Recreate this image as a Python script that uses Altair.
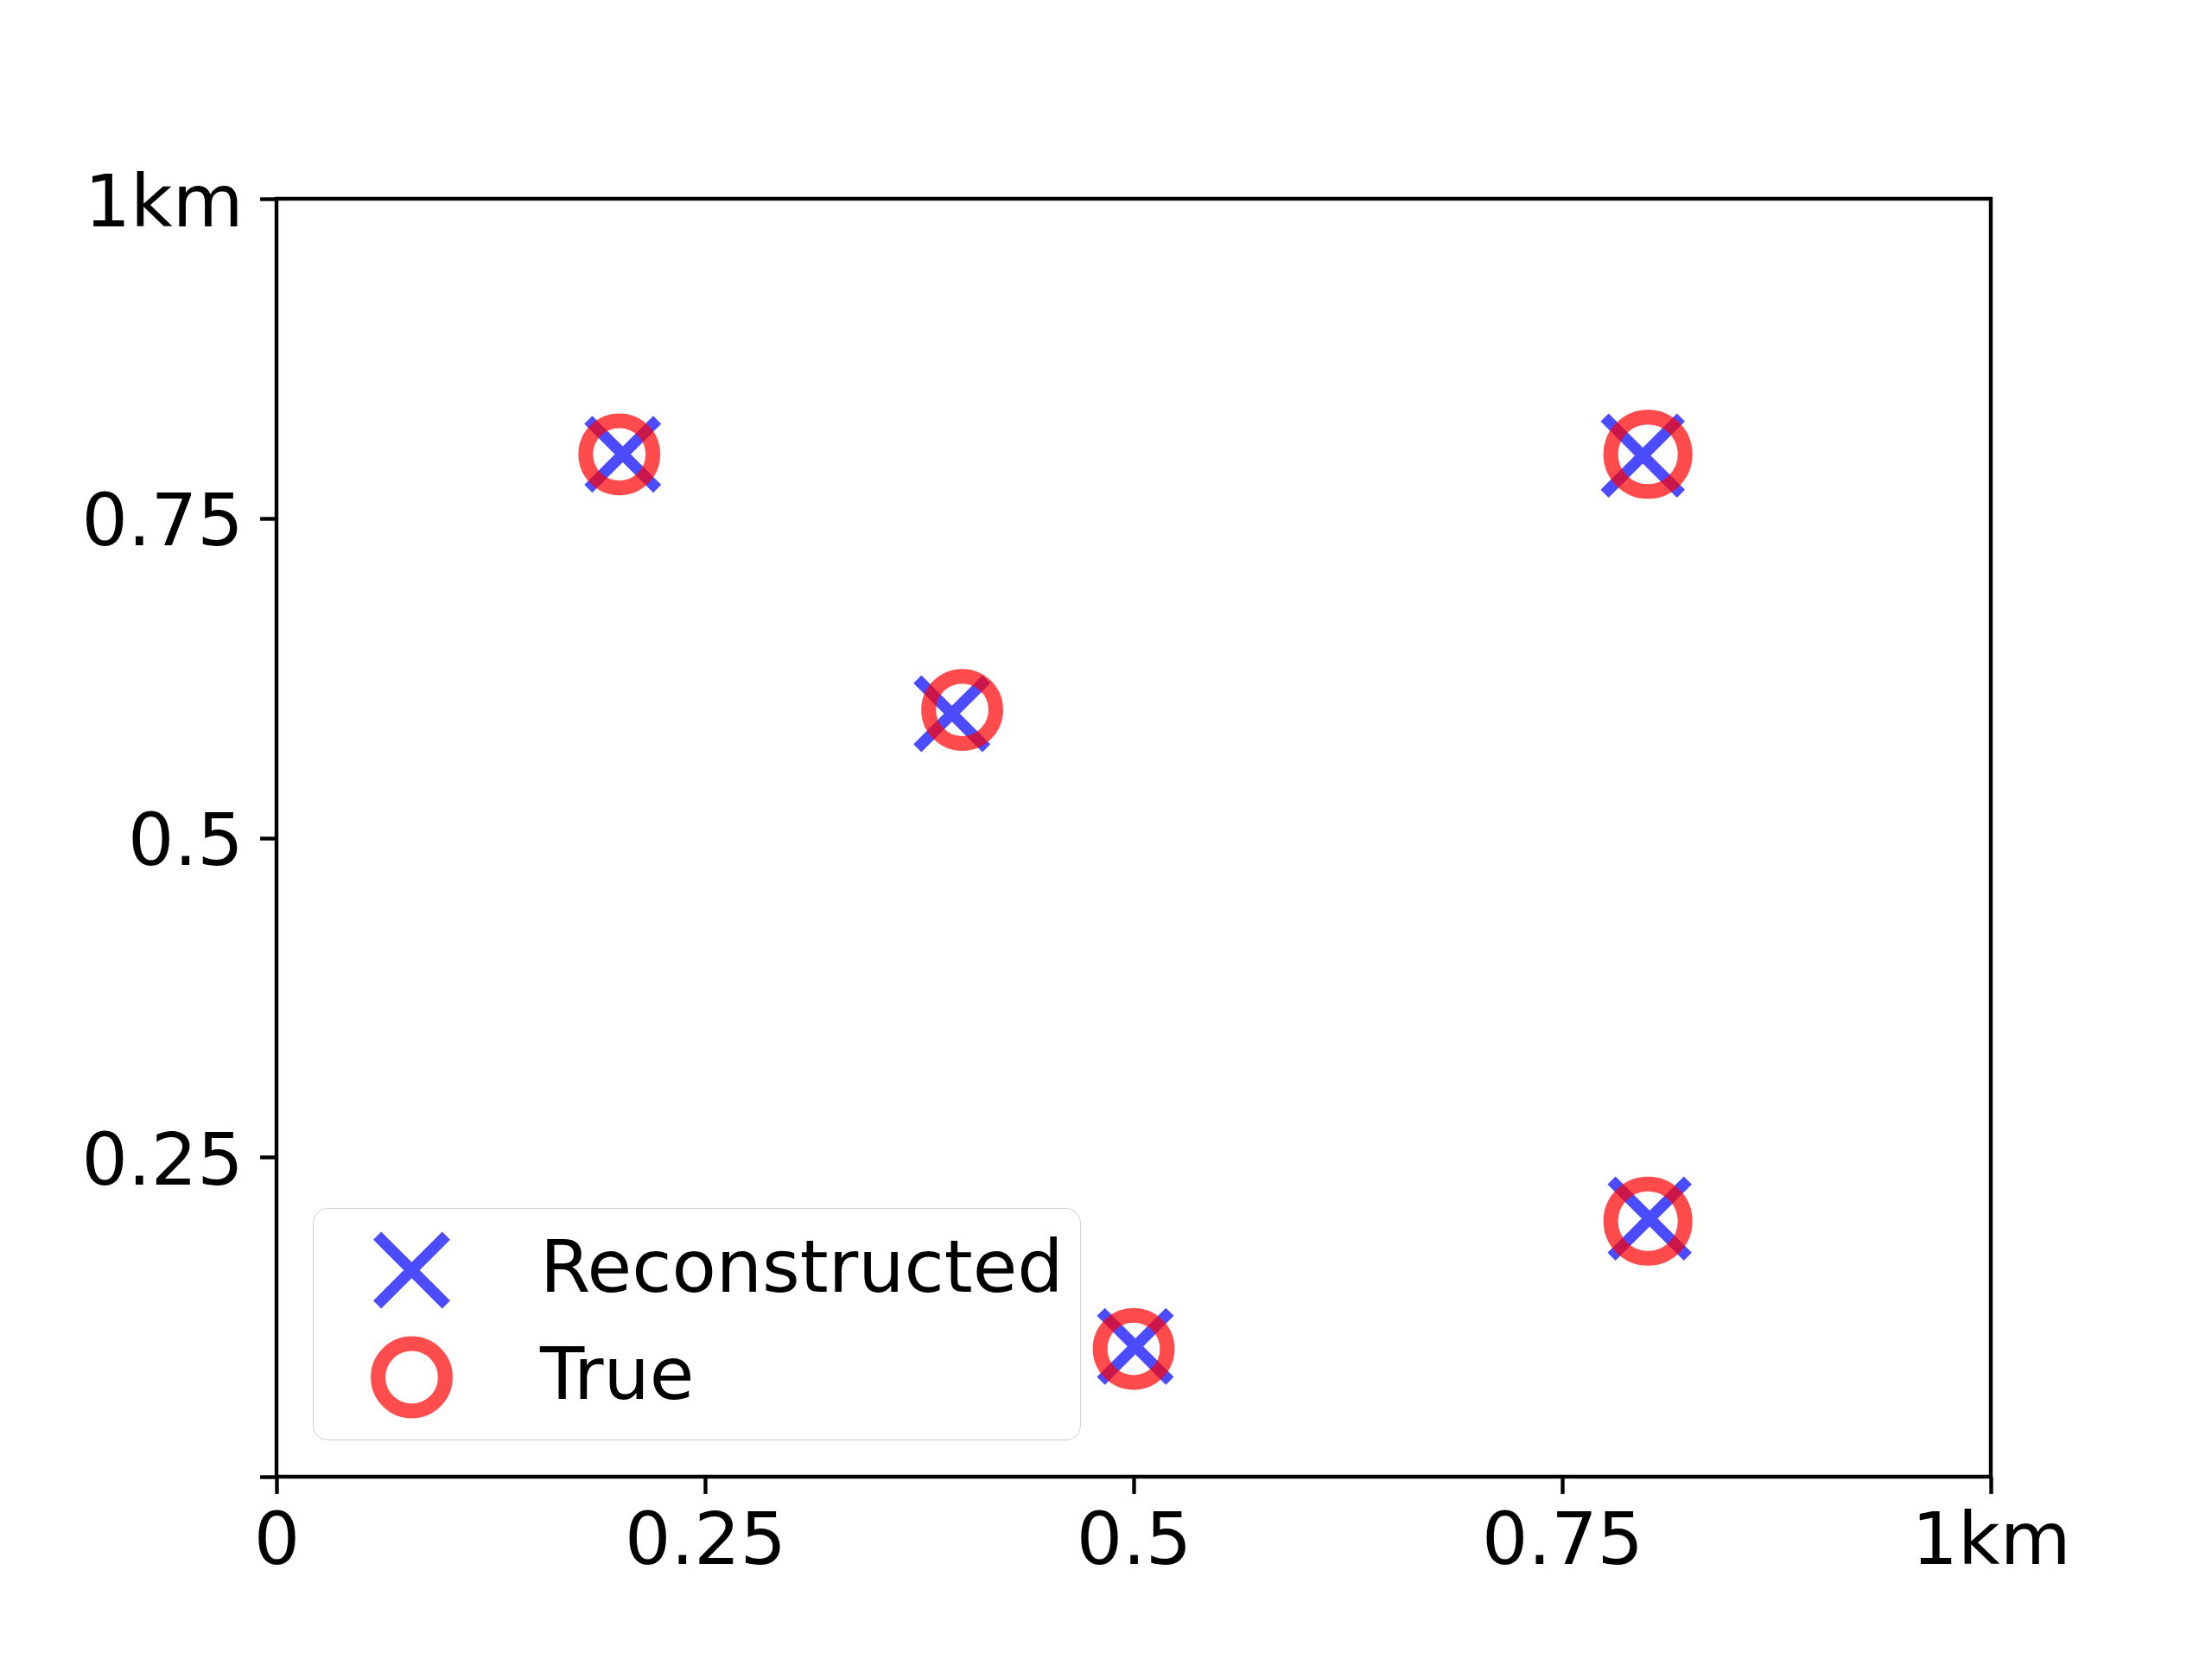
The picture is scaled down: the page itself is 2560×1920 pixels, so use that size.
import json
import altair as alt
import pandas as pd

# ---- data ----
series_names = ["Reconstructed", "True"]
true_x = [0.2, 0.4, 0.5, 0.8, 0.8]
true_y = [0.8, 0.6, 0.1, 0.8, 0.2]
rec_x = [0.202, 0.394, 0.501, 0.797, 0.801]
rec_y = [0.800, 0.597, 0.102, 0.799, 0.202]
marker_s = [200, 200, 200, 250, 250]
tick_values = [0, 0.25, 0.5, 0.75, 1]
x_tick_labels = ["0", "0.25", "0.5", "0.75", "1km"]
y_tick_labels = ["", "0.25", "0.5", "0.75", "1km"]

rows = []
for x, y, s in zip(rec_x, rec_y, marker_s):
    rows.append({"x": x, "y": y, "s": s, "series": series_names[0]})
for x, y, s in zip(true_x, true_y, marker_s):
    rows.append({"x": x, "y": y, "s": s, "series": series_names[1]})
df = pd.DataFrame(rows)

X_PATH = "M-1,-1L1,1M-1,1L1,-1"
O_PATH = "M0.975,0A0.975,0.975,0,1,1,-0.975,0A0.975,0.975,0,1,1,0.975,0Z"

FONT = "DejaVu Sans"
FS = 84


def label_expr(labels):
    return f"{json.dumps(labels)}[indexof({json.dumps(tick_values)}, datum.value)]"


common_axis = dict(
    values=tick_values,
    title=None,
    grid=False,
    domain=False,
    ticks=True,
    tickSize=19.4,
    tickWidth=4.4,
    tickColor="black",
    labelFont=FONT,
    labelFontSize=FS,
    labelColor="black",
    labelFlush=False,
    labelOverlap=False,
    labelBound=False,
    labelLimit=0,
)

chart = (
    alt.Chart(df)
    .mark_point(filled=False, opacity=0.7)
    .encode(
        x=alt.X(
            "x:Q",
            scale=alt.Scale(domain=[0, 1], nice=False, zero=False),
            axis=alt.Axis(labelExpr=label_expr(x_tick_labels), labelPadding=15, **common_axis),
        ),
        y=alt.Y(
            "y:Q",
            scale=alt.Scale(domain=[0, 1], nice=False, zero=False),
            axis=alt.Axis(labelExpr=label_expr(y_tick_labels), labelPadding=19.5, labelOffset=6, **common_axis),
        ),
        color=alt.Color(
            "series:N",
            scale=alt.Scale(domain=series_names, range=["#0000ff", "#ff0000"]),
            legend=alt.Legend(
                title=None,
                orient="none",
                legendX=42,
                legendY=1168,
                padding=19,
                symbolOffset=47,
                labelOffset=100,
                clipHeight=106,
                rowPadding=18,
                labelFont=FONT,
                labelFontSize=FS,
                labelColor="black",
                labelBaseline="middle",
                labelLimit=0,
                symbolSize=6368,
                symbolOpacity=0.7,
                fillColor="white",
                strokeColor="#cfcfcf",
                cornerRadius=17,
            ),
        ),
        shape=alt.Shape(
            "series:N",
            scale=alt.Scale(domain=series_names, range=[X_PATH, O_PATH]),
        ),
        strokeWidth=alt.StrokeWidth(
            "series:O",
            scale=alt.Scale(type="ordinal", domain=series_names, range=[13, 17]),
        ),
        size=alt.Size(
            "s:Q",
            scale=alt.Scale(domain=[200, 250], range=[6368, 7797], zero=False),
            legend=None,
        ),
    )
    .properties(
        width=1984,
        height=1479,
        autosize=alt.AutoSizeParams(type="none"),
        padding={"left": 312, "top": 222, "right": 248, "bottom": 203},
        background="white",
    )
    .configure_view(stroke="black", strokeWidth=4.4)
)

chart.save("out.html", embed_options={"renderer": "svg", "actions": False})
